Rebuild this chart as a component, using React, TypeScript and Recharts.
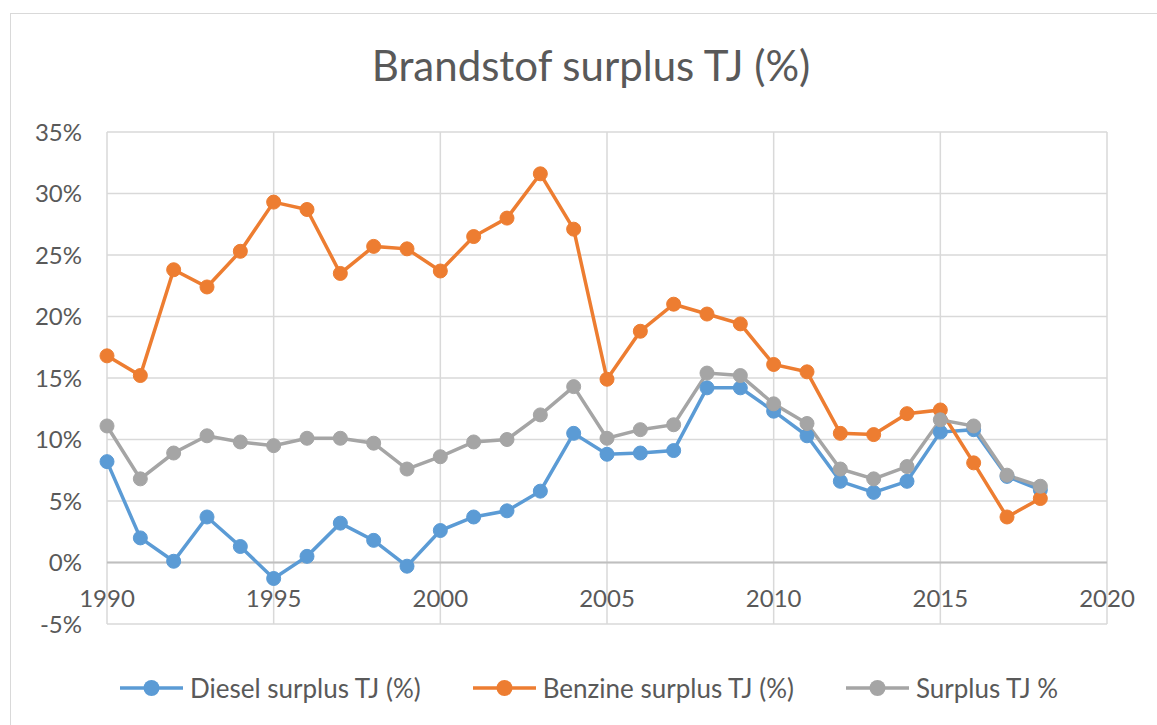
import React from 'react';
import { LineChart, Line, XAxis, YAxis, CartesianGrid, ReferenceLine } from 'recharts';

const years = [
  1990, 1991, 1992, 1993, 1994, 1995, 1996, 1997, 1998, 1999,
  2000, 2001, 2002, 2003, 2004, 2005, 2006, 2007, 2008, 2009,
  2010, 2011, 2012, 2013, 2014, 2015, 2016, 2017, 2018,
];
const diesel = [
  8.2, 2.0, 0.1, 3.7, 1.3, -1.3, 0.5, 3.2, 1.8, -0.3,
  2.6, 3.7, 4.2, 5.8, 10.5, 8.8, 8.9, 9.1, 14.2, 14.2,
  12.3, 10.3, 6.6, 5.7, 6.6, 10.6, 10.8, 7.0, 5.9,
];
const benzine = [
  16.8, 15.2, 23.8, 22.4, 25.3, 29.3, 28.7, 23.5, 25.7, 25.5,
  23.7, 26.5, 28.0, 31.6, 27.1, 14.9, 18.8, 21.0, 20.2, 19.4,
  16.1, 15.5, 10.5, 10.4, 12.1, 12.4, 8.1, 3.7, 5.2,
];
const surplus = [
  11.1, 6.8, 8.9, 10.3, 9.8, 9.5, 10.1, 10.1, 9.7, 7.6,
  8.6, 9.8, 10.0, 12.0, 14.3, 10.1, 10.8, 11.2, 15.4, 15.2,
  12.9, 11.3, 7.6, 6.8, 7.8, 11.6, 11.1, 7.1, 6.2,
];
const xTicks = [1990, 1995, 2000, 2005, 2010, 2015, 2020];
const yTicks = [-5, 0, 5, 10, 15, 20, 25, 30, 35];

const series = [
  { key: 'diesel', name: 'Diesel surplus TJ (%)', color: '#5B9BD5' },
  { key: 'benzine', name: 'Benzine surplus TJ (%)', color: '#ED7D31' },
  { key: 'surplus', name: 'Surplus TJ %', color: '#A5A5A5' },
];

const data = years.map((year, i) => ({
  year,
  diesel: diesel[i],
  benzine: benzine[i],
  surplus: surplus[i],
}));

const FONT = 'Lato, sans-serif';
const TEXT = '#595959';

// excel puts the year labels just under the 0% line, not at the bottom
const renderXTick = (props: any) => {
  const { x, y, payload } = props;
  return (
    <text x={x} y={y - 36} textAnchor="middle" dominantBaseline="hanging" fill={TEXT} fontSize={24} fontFamily={FONT}>
      {payload.value}
    </text>
  );
};

const App = () => {
  return (
    <div style={{ position: 'absolute', left: 0, top: 0, width: 1157, height: 725, overflow: 'hidden', background: '#fff' }}>
      <div style={{ position: 'absolute', left: 10, top: 13, width: 1200, height: 800, border: '1px solid #d9d9d9' }} />
      <div style={{ position: 'absolute', left: 0, top: 44, width: 1182, textAlign: 'center', fontFamily: FONT, fontSize: 42, lineHeight: '42px', color: TEXT }}>
        Brandstof surplus TJ (%)
      </div>
      <LineChart
        width={1157}
        height={725}
        data={data}
        margin={{ top: 132, right: 50, bottom: 100, left: 0 }}
        style={{ position: 'absolute', left: 0, top: 0 }}
      >
        <CartesianGrid stroke="#d9d9d9" strokeWidth={1.5} />
        <XAxis
          dataKey="year"
          type="number"
          domain={[1990, 2020]}
          ticks={xTicks}
          height={1}
          axisLine={false}
          tickLine={false}
          tickSize={0}
          tickMargin={0}
          tick={renderXTick}
          interval={0}
        />
        <YAxis
          domain={[-5, 35]}
          ticks={yTicks}
          width={107}
          axisLine={false}
          tickLine={false}
          tickSize={0}
          tickMargin={25}
          tickFormatter={(v: number) => `${v}%`}
          tick={{ fill: TEXT, fontSize: 24, fontFamily: FONT }}
          interval={0}
        />
        <ReferenceLine y={0} stroke="#bfbfbf" strokeWidth={2} />
        {series.map((s) => (
          <Line
            key={s.key}
            dataKey={s.key}
            name={s.name}
            stroke={s.color}
            strokeWidth={3.5}
            dot={{ r: 7, fill: s.color, stroke: s.color, strokeWidth: 1 }}
            activeDot={false}
            isAnimationActive={false}
          />
        ))}
      </LineChart>
      <div style={{ position: 'absolute', left: 120, top: 672, display: 'flex', fontFamily: FONT, fontSize: 26, color: TEXT, whiteSpace: 'nowrap' }}>
        {series.map((s, i) => (
          <div key={s.key} style={{ display: 'flex', alignItems: 'center', marginLeft: i === 0 ? 0 : 52 }}>
            <svg width={63} height={32}>
              <line x1={0} y1={16} x2={63} y2={16} stroke={s.color} strokeWidth={3.5} />
              <circle cx={31.5} cy={16} r={8} fill={s.color} />
            </svg>
            <span style={{ marginLeft: 7, lineHeight: '32px' }}>{s.name}</span>
          </div>
        ))}
      </div>
    </div>
  );
};

export default App;
